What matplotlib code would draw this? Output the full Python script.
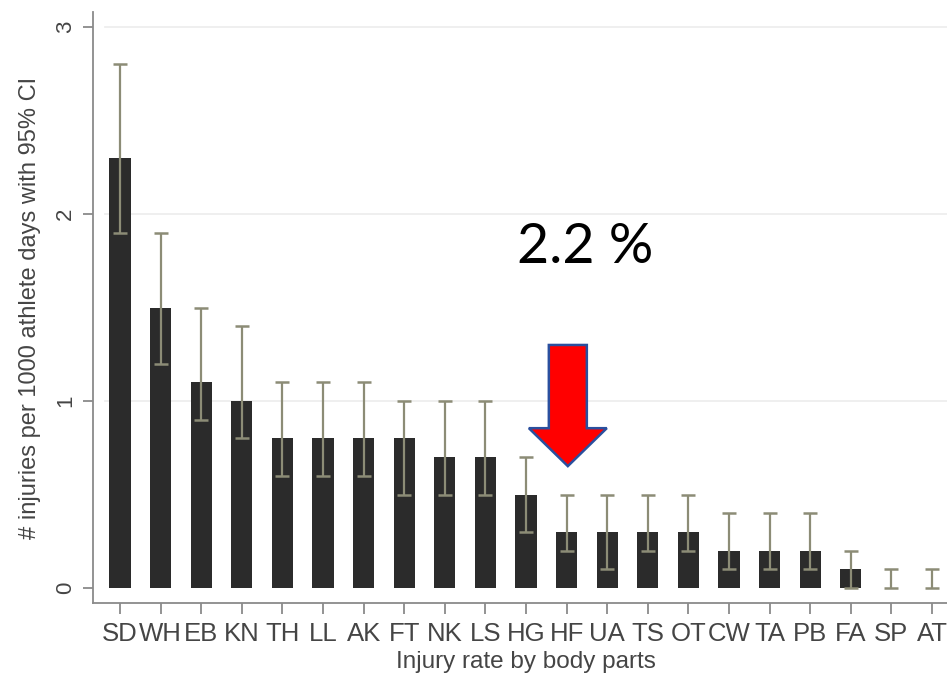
import matplotlib
matplotlib.use('Agg')
import matplotlib.pyplot as plt
import matplotlib.patches as mpatches

# datos
partes = ['SD', 'WH', 'EB', 'KN', 'TH', 'LL', 'AK', 'FT', 'NK', 'LS', 'HG',
          'HF', 'UA', 'TS', 'OT', 'CW', 'TA', 'PB', 'FA', 'SP', 'AT']
tasa = [2.3, 1.5, 1.1, 1.0, 0.8, 0.8, 0.8, 0.8, 0.7, 0.7, 0.5,
        0.3, 0.3, 0.3, 0.3, 0.2, 0.2, 0.2, 0.1, 0.0, 0.0]
ciBajo = [1.9, 1.2, 0.9, 0.8, 0.6, 0.6, 0.6, 0.5, 0.5, 0.5, 0.3,
          0.2, 0.1, 0.2, 0.2, 0.1, 0.1, 0.1, 0.0, 0.0, 0.0]
ciAlto = [2.8, 1.9, 1.5, 1.4, 1.1, 1.1, 1.1, 1.0, 1.0, 1.0, 0.7,
          0.5, 0.5, 0.5, 0.5, 0.4, 0.4, 0.4, 0.2, 0.1, 0.1]
yTicks = [0, 1, 2, 3]
anotacion = '2.2 %'
posFlecha = 11.03

plt.rcParams['font.family'] = ['Liberation Sans', 'DejaVu Sans']
gris = '#454545'

fig = plt.figure(figsize=(9.47, 6.8), dpi=100)
ax = fig.add_axes([0.0982, 0.1132, 0.9145, 0.869])

xs = list(range(len(partes)))

for y in yTicks[1:]:
    ax.axhline(y, xmin=0.014, color='#ececec', lw=1.2, zorder=0)

ax.bar(xs, tasa, width=0.52, color='#2b2b2b', zorder=2)

errInf = [t - b for t, b in zip(tasa, ciBajo)]
errSup = [a - t for t, a in zip(tasa, ciAlto)]
ax.errorbar(xs, tasa, yerr=[errInf, errSup], fmt='none', ecolor='#8c8c76',
            elinewidth=1.6, capsize=5, capthick=1.8, zorder=3)

ax.set_xlim(-0.665, len(partes) - 1 + 0.665)
ax.set_ylim(-0.08, 3.08)

ax.set_xticks(xs)
ax.set_xticklabels(partes, fontsize=18.5, color=gris)
ax.set_yticks(yTicks)
ax.set_yticklabels([str(v) for v in yTicks], fontsize=16, color=gris,
                   rotation=90, va='center')

for lado in ['top', 'right']:
    ax.spines[lado].set_visible(False)
for lado in ['left', 'bottom']:
    ax.spines[lado].set_color('#8a8a8a')
    ax.spines[lado].set_linewidth(1.3)
ax.tick_params(axis='x', length=8, width=1.3, color='#8a8a8a', pad=6)
ax.tick_params(axis='y', length=7, width=1.3, color='#8a8a8a', pad=5)

ax.set_xlabel('Injury rate by body parts', fontsize=17.5, color=gris, labelpad=3)
ax.set_ylabel('# injuries per 1000 athlete days with 95% CI', fontsize=17,
              color=gris, labelpad=10)

# flecha roja
flecha = mpatches.FancyArrow(posFlecha, 1.30, 0, -0.648, width=0.936,
                             head_width=1.92, head_length=0.203,
                             length_includes_head=True, facecolor='#ff0000',
                             edgecolor='#2a4f9e', linewidth=1.8, zorder=5)
ax.add_patch(flecha)

ax.text(11.45, 1.82, anotacion, fontsize=40, color='black', ha='center',
        va='center', family=['Lato', 'DejaVu Sans'], zorder=6)

fig.savefig('out.png', dpi=100)
